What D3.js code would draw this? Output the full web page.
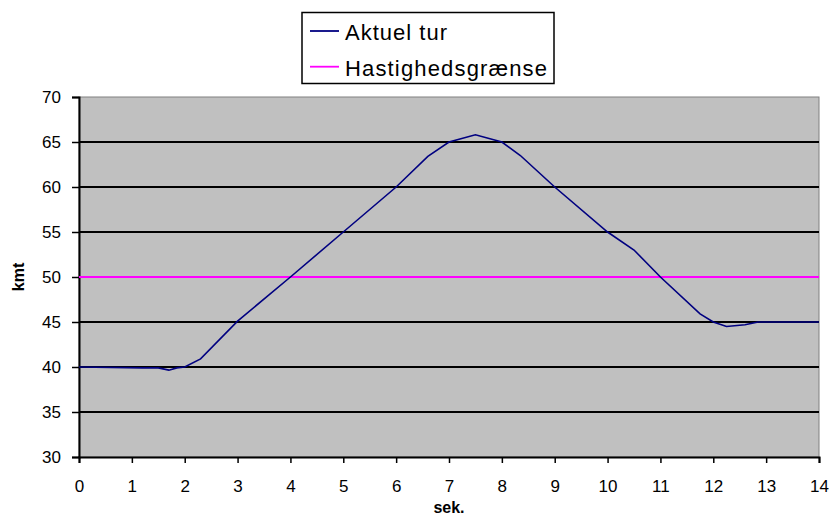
<!DOCTYPE html>
<html>
<head>
<meta charset="utf-8">
<script src="https://cdn.jsdelivr.net/npm/d3@7"></script>
<style>
  html, body { margin: 0; padding: 0; background: #fff; }
  svg { display: block; font-family: "Liberation Sans", Arial, sans-serif; }
</style>
</head>
<body>
<svg id="chart" width="829" height="516"></svg>
<script>
// Measured speed over time (seconds, km/t)
const seconds = [0, 1.2, 1.5, 1.7, 1.85, 2.0, 2.3, 3.0, 4.0, 5.0, 6.0, 6.6, 7.0, 7.5, 8.0, 8.35, 9.0, 10.0, 10.5, 11.0, 11.75, 12.0, 12.25, 12.6, 12.85, 14];
const speed   = [40, 39.9, 39.9, 39.65, 39.9, 40.0, 40.9, 45.1, 50, 55, 60, 63.4, 65, 65.8, 65, 63.5, 60, 55, 53, 50, 45.9, 45, 44.5, 44.7, 45, 45];
const speedLimit = 50;
const xTicks = [0, 1, 2, 3, 4, 5, 6, 7, 8, 9, 10, 11, 12, 13, 14];
const yTicks = [30, 35, 40, 45, 50, 55, 60, 65, 70];
const legendLabels = ["Aktuel tur", "Hastighedsgrænse"];
const xTitle = "sek.";
const yTitle = "kmt";

const svg = d3.select("#chart");
const plotLeft = 79, plotRight = 819, plotTop = 97, plotBottom = 457;

const x = d3.scaleLinear().domain([0, 14]).range([plotLeft, plotRight]);
const y = d3.scaleLinear().domain([30, 70]).range([plotBottom, plotTop]);

// plot area
svg.append("rect")
  .attr("x", plotLeft).attr("y", plotTop)
  .attr("width", plotRight - plotLeft).attr("height", plotBottom - plotTop)
  .attr("fill", "#c0c0c0")
  .attr("stroke", "#808080").attr("stroke-width", 1);

// horizontal gridlines
svg.append("g").selectAll("line")
  .data(yTicks.filter(d => d > 30 && d < 70))
  .join("line")
  .attr("x1", plotLeft).attr("x2", plotRight)
  .attr("y1", d => y(d)).attr("y2", d => y(d))
  .attr("stroke", "#000").attr("stroke-width", 1.8);

// axes
const yAxis = svg.append("g")
  .attr("transform", `translate(${plotLeft},0)`)
  .call(d3.axisLeft(y).tickValues(yTicks).tickSize(7).tickPadding(11));
const xAxis = svg.append("g")
  .attr("transform", `translate(0,${plotBottom})`)
  .call(d3.axisBottom(x).tickValues(xTicks).tickSize(6).tickPadding(17));

[yAxis, xAxis].forEach(g => {
  g.select(".domain").attr("stroke", "#000").attr("stroke-width", 2);
  g.selectAll(".tick line").attr("stroke", "#000").attr("stroke-width", 1.5);
  g.selectAll(".tick text")
    .attr("fill", "#000")
    .style("font-family", "'Liberation Sans', Arial, sans-serif")
    .style("font-size", "17px");
});

// speed limit
svg.append("line")
  .attr("x1", x(0)).attr("x2", x(14))
  .attr("y1", y(speedLimit)).attr("y2", y(speedLimit))
  .attr("stroke", "#ff00ff").attr("stroke-width", 1.8);

// actual trip
const pts = seconds.map((t, i) => [t, speed[i]]);
svg.append("path")
  .datum(pts)
  .attr("fill", "none")
  .attr("stroke", "#000080")
  .attr("stroke-width", 1.6)
  .attr("d", d3.line().x(d => x(d[0])).y(d => y(d[1])));

// axis titles
svg.append("text")
  .attr("x", 449).attr("y", 513)
  .attr("text-anchor", "middle")
  .style("font-size", "16px").style("font-weight", "bold")
  .text(xTitle);
svg.append("text")
  .attr("transform", "translate(24,277) rotate(-90)")
  .attr("text-anchor", "middle")
  .style("font-size", "16px").style("font-weight", "bold")
  .text(yTitle);

// legend
const lg = svg.append("g");
lg.append("rect")
  .attr("x", 302).attr("y", 12.5).attr("width", 252).attr("height", 71)
  .attr("fill", "#fff").attr("stroke", "#000").attr("stroke-width", 1.5);
const legendColors = ["#000080", "#ff00ff"];
const legendWidths = [102, 202];
legendLabels.forEach((label, i) => {
  const cy = 31 + i * 35.7;
  lg.append("line")
    .attr("x1", 310).attr("x2", 339)
    .attr("y1", cy).attr("y2", cy)
    .attr("stroke", legendColors[i]).attr("stroke-width", 1.8);
  lg.append("text")
    .attr("x", 345).attr("y", cy + 9)
    .attr("textLength", legendWidths[i])
    .attr("lengthAdjust", "spacing")
    .style("font-size", "22px")
    .text(label);
});
</script>
</body>
</html>
